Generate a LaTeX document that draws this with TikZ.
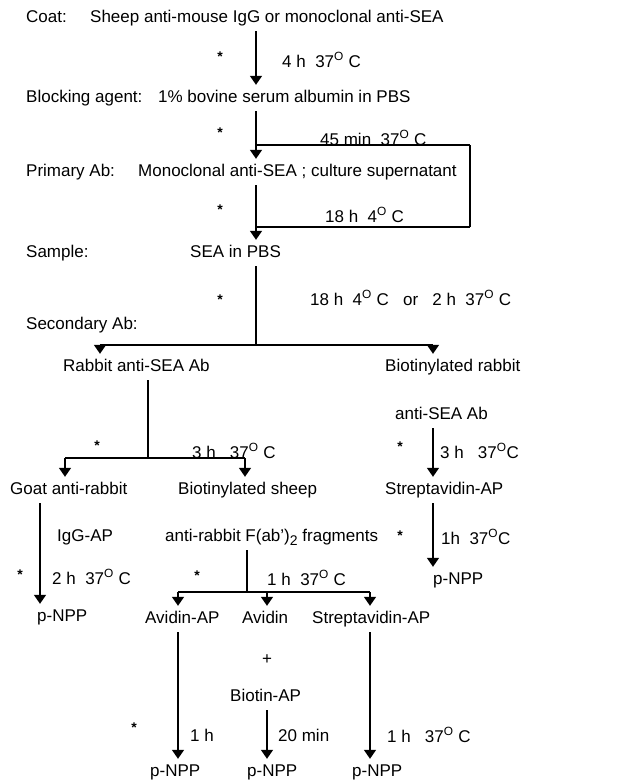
\documentclass[tikz,border=0pt]{standalone}
\usepackage{fontspec}
\setmainfont{Liberation Sans}
\usetikzlibrary{arrows.meta,positioning}

\newcommand{\degO}{\textsuperscript{O}}
\newcommand{\subtwo}{\raisebox{-4pt}{\fontsize{14}{14}\selectfont 2}}

\begin{document}
\begin{tikzpicture}[x=1pt, y=-1pt, font=\fontsize{17}{19}\selectfont]
    % Define styles
    \tikzstyle{txt} = [anchor=west, inner xsep=0pt, inner ysep=5pt, text height=12pt, text depth=4pt]
    \tikzstyle{cond} = [anchor=west, inner sep=0pt]
    \tikzstyle{star} = [inner sep=0pt, font=\fontsize{14}{14}\selectfont\bfseries]
    \tikzstyle{line} = [line width=1.3pt]
    \tikzstyle{thickline} = [line width=2.6pt]
    \tikzstyle{arrow} = [line width=1.5pt, -{Triangle[length=9pt,width=12pt]}]

    \useasboundingbox (0,0) rectangle (631,782);

    % Nodes
    \node [txt] (coatlbl) at (26,18) {Coat:};
    \node [txt] (coat) at (90,18) {Sheep anti-mouse IgG or monoclonal anti-SEA};
    \node [txt] (blocklbl) at (26,98) {Blocking agent:};
    \node [txt] (block) at (158,98) {1\% bovine serum albumin in PBS};
    \node [txt] (primlbl) at (26,172) {Primary Ab:};
    \node [txt] (prim) at (138,172) {Monoclonal anti-SEA ; culture supernatant};
    \node [txt] (samplbl) at (26,253) {Sample:};
    \node [txt] (samp) at (190,253) {SEA in PBS};
    \node [txt] (seclbl) at (26,325) {Secondary Ab:};
    \node [txt] (rab) at (63,367) {Rabbit anti-SEA Ab};
    \node [txt] (biorab) at (385,367) {Biotinylated rabbit};
    \node [txt] (biorab2) at (395,415) {anti-SEA Ab};
    \node [txt] (goat) at (10,490) {Goat anti-rabbit};
    \node [txt] (goat2) at (57,537) {IgG-AP};
    \node [txt] (biosh) at (178,490) {Biotinylated sheep};
    \node [txt] (biosh2) at (165,537) {anti-rabbit F(ab')\subtwo\ fragments};
    \node [txt] (strep) at (385,490) {Streptavidin-AP};
    \node [txt] (npp1) at (37,617) {p-NPP};
    \node [txt] (npp2) at (433,580) {p-NPP};
    \node [txt] (avap) at (145,619) {Avidin-AP};
    \node [txt] (av) at (242,619) {Avidin};
    \node [txt] (strep2) at (312,619) {Streptavidin-AP};
    \node [inner sep=0pt] (plus) at (267,660) {+};
    \node [txt] (biotin) at (230,697) {Biotin-AP};
    \node [txt] (npp3) at (150,772) {p-NPP};
    \node [txt] (npp4) at (247,772) {p-NPP};
    \node [txt] (npp5) at (352,772) {p-NPP};

    % Incubation conditions
    \node [cond] (t1) at (282,60) {4 h\ \ 37\degO\ C};
    \node [cond] (t2) at (320,138) {45 min\ \ 37\degO\ C};
    \node [cond] (t3) at (325,215) {18 h\ \ 4\degO\ C};
    \node [cond] (t4) at (310,298) {18 h\ \ 4\degO\ C\ \ \ or\ \ \ 2 h\ \ 37\degO\ C};
    \node [cond] (t5) at (192,451) {3 h\ \ \ 37\degO\ C};
    \node [cond] (t6) at (440,451) {3 h\ \ \ 37\degO C};
    \node [cond] (t7) at (441,537) {1h\ \ 37\degO C};
    \node [cond] (t8) at (52,577) {2 h\ \ 37\degO\ C};
    \node [cond] (t9) at (267,578) {1 h\ \ 37\degO\ C};
    \node [cond] (t10) at (190,735) {1 h};
    \node [cond] (t11) at (278,735) {20 min};
    \node [cond] (t12) at (387,735) {1 h\ \ \ 37\degO\ C};

    % Stars
    \foreach \n/\x/\y in {s1/220/57, s2/220/133, s3/220/210, s4/220/300, s5/97/446,
                          s6/400/447, s7/400/536, s8/20/575, s9/197/576, s10/134/728}
        \node [star] (\n) at (\x,\y) {*};

    % Junctions
    \coordinate (loopTop) at (256,145);
    \coordinate (loopR) at (470,145);
    \coordinate (loopBot) at (256,227);
    \coordinate (split1) at (256,345);
    \coordinate (split2) at (148,458);
    \coordinate (split3) at (247,592);
    \coordinate (colRab) at (100,0);
    \coordinate (colBio) at (433,0);
    \coordinate (colGoat) at (40,0);
    \coordinate (colGoatIn) at (65,0);
    \coordinate (colSheep) at (245,0);
    \coordinate (colAvAP) at (178,0);
    \coordinate (colAv) at (267,0);
    \coordinate (colStrep) at (370,0);

    % Arrows
    \draw [arrow] (coat.south -| split1) -- (block.north -| split1);
    \draw [arrow] (block.south -| split1) -- (prim.north -| split1);
    \draw [line] (loopTop) -- (loopR);
    \draw [thickline] (loopR) -- (loopR |- loopBot);
    \draw [line] (loopR |- loopBot) -- (loopBot);
    \draw [arrow] (prim.south -| split1) -- (samp.north -| split1);
    \draw [line] (samp.south -| split1) -- (split1);
    \draw [line] (split1 -| colRab) -- (split1 -| colBio);
    \draw [arrow] (split1 -| colRab) -- (colRab |- rab.north);
    \draw [arrow] (split1 -| colBio) -- (colBio |- biorab.north);
    \draw [line] (rab.south -| split2) -- (split2);
    \draw [line] (split2 -| colGoatIn) -- (split2 -| colSheep);
    \draw [arrow] (split2 -| colGoatIn) -- (colGoatIn |- goat.north);
    \draw [arrow] (split2 -| colSheep) -- (colSheep |- biosh.north);
    \draw [arrow] (biorab2.south -| colBio) -- (colBio |- strep.north);
    \draw [arrow] (goat.south -| colGoat) -- (colGoat |- npp1.north);
    \draw [arrow] (strep.south -| colBio) -- (colBio |- npp2.north);
    \draw [line] (biosh2.south -| split3) -- (split3);
    \draw [line] (split3 -| colAvAP) -- (split3 -| colStrep);
    \draw [arrow] (split3 -| colAvAP) -- (colAvAP |- avap.north);
    \draw [arrow] (split3 -| colAv) -- (colAv |- av.north);
    \draw [arrow] (split3 -| colStrep) -- (colStrep |- strep2.north);
    \draw [arrow] (avap.south -| colAvAP) -- (colAvAP |- npp3.north);
    \draw [arrow] (biotin.south -| colAv) -- (colAv |- npp4.north);
    \draw [arrow] (strep2.south -| colStrep) -- (colStrep |- npp5.north);
\end{tikzpicture}
\end{document}
